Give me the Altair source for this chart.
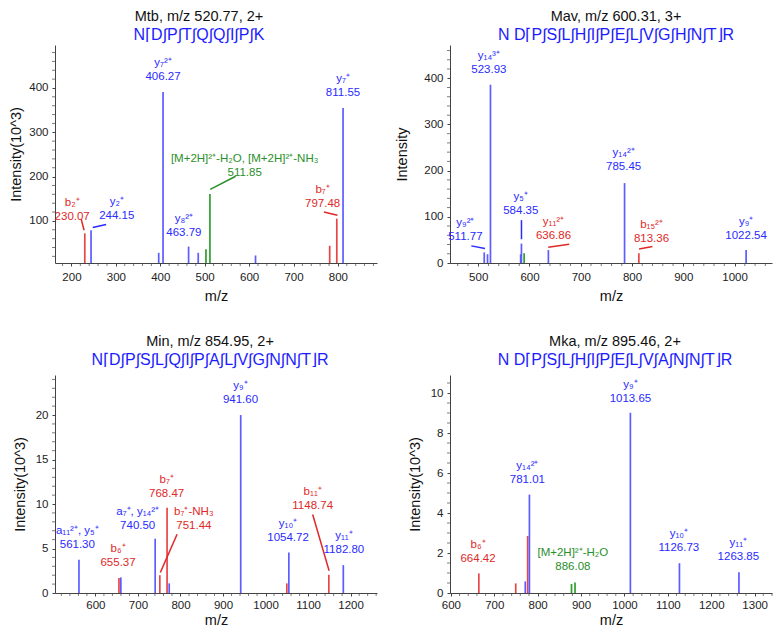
import altair as alt
import numpy as np
import pandas as pd

FONT = "Liberation Sans"
BAR = {"b": "#e84646", "y": "#5c5cff", "m": "#2f9e2f"}
TXT = {"b": "#e02828", "y": "#2a2aff", "m": "#2a8f2a"}
AXC = "#444444"

# ---------------- Mtb ----------------
mtb_title = "Mtb, m/z 520.77, 2+"
mtb_seq = "N⌈D∫P∫T∫Q∫Q∫I∫P∫K"
mtb_mz = [230.07, 244.15, 396.5, 406.27, 463.79, 485.5, 502.9, 511.85, 614.5, 781.5, 797.48, 811.55]
mtb_int = [72, 79, 28, 391, 42, 28, 36, 161, 22, 44, 105, 355]
mtb_kind = ["b", "y", "y", "y", "y", "y", "m", "m", "y", "b", "b", "y"]
mtb_lab_name = ["b₂⁺", "y₂⁺", "y₇²⁺", "y₈²⁺", "[M+2H]²⁺-H₂O, [M+2H]²⁺-NH₃", "b₇⁺", "y₇⁺"]
mtb_lab_val = ["230.07", "244.15", "406.27", "463.79", "511.85", "797.48", "811.55"]
mtb_lab_x = [201.7, 302.1, 406.3, 453.2, 590.0, 765.5, 811.5]
mtb_lab_y = [107.7, 110.6, 424.0, 73.2, 208.4, 137.5, 388.9]
mtb_lab_kind = ["b", "y", "y", "y", "m", "b", "y"]
mtb_lead_x1 = [222.0, 247.9, 512.5, 768.4]
mtb_lead_y1 = [104.0, 85.3, 171.0, 120.2]
mtb_lead_x2 = [228.5, 278.2, 569.8, 798.9]
mtb_lead_y2 = [79.0, 92.0, 200.8, 112.8]
mtb_lead_kind = ["b", "y", "m", "b"]
mtb_xmajor = [200, 300, 400, 500, 600, 700, 800]
mtb_ymajor = [100, 200, 300, 400]

# ---------------- Mav ----------------
mav_title = "Mav, m/z 600.31, 3+"
mav_seq = "N D⌈P∫S∫L∫H∫I∫P∫E∫L∫V∫G∫H∫N∫T⌋R"
mav_mz = [511.77, 518.2, 523.93, 582.8, 584.35, 589.6, 636.86, 785.45, 813.36, 1022.54]
mav_int = [23, 19, 386, 19, 42, 21, 28, 173, 21, 28]
mav_kind = ["y", "y", "y", "y", "y", "m", "y", "y", "b", "y"]
mav_lab_name = ["y₉²⁺", "y₁₄³⁺", "y₅⁺", "y₁₁²⁺", "y₁₄²⁺", "b₁₅²⁺", "y₉⁺"]
mav_lab_val = ["511.77", "523.93", "584.35", "636.86", "785.45", "813.36", "1022.54"]
mav_lab_x = [475.0, 520.8, 583.1, 646.9, 783.7, 838.0, 1022.5]
mav_lab_y = [55.7, 417.0, 112.7, 58.5, 207.0, 52.7, 58.5]
mav_lab_kind = ["y", "y", "y", "b", "y", "b", "y"]
mav_lead_x1 = [486.5, 584.4, 636.6, 813.7]
mav_lead_y1 = [37.1, 92.8, 34.3, 30.2]
mav_lead_x2 = [513.2, 584.4, 677.5, 839.8]
mav_lead_y2 = [31.3, 51.4, 40.7, 35.6]
mav_lead_kind = ["y", "y", "b", "b"]
mav_xmajor = [500, 600, 700, 800, 900, 1000]
mav_ymajor = [0, 100, 200, 300, 400]

# ---------------- Min ----------------
min_title = "Min, m/z 854.95, 2+"
min_seq = "N⌈D∫P∫S∫L∫Q∫I∫P∫A∫L∫V∫G∫N∫N∫T⌋R"
min_mz = [561.30, 655.37, 659.8, 740.50, 751.44, 768.47, 773.5, 941.60, 1050.0, 1054.72, 1148.74, 1182.80]
min_int = [3.73, 1.68, 1.75, 6.1, 2.0, 9.57, 1.08, 20.0, 1.08, 4.55, 2.05, 3.13]
min_kind = ["y", "b", "y", "y", "b", "b", "y", "y", "b", "y", "b", "y"]
min_lab_name = ["a₁₁²⁺, y₅⁺", "b₆⁺", "a₇⁺, y₁₄²⁺", "b₇⁺", "b₇⁺-NH₃", "y₉⁺", "y₁₀⁺", "b₁₁⁺", "y₁₁⁺"]
min_lab_val = ["561.30", "655.37", "740.50", "768.47", "751.44", "941.60", "1054.72", "1148.74", "1182.80"]
min_lab_x = [557.5, 653.2, 699.4, 767.5, 831.4, 941.1, 1052.9, 1110.8, 1184.2]
min_lab_y = [5.36, 3.35, 7.53, 11.14, 7.53, 21.64, 6.22, 9.83, 4.8]
min_lab_kind = ["y", "b", "y", "b", "b", "y", "y", "b", "y"]
min_lead_x1 = [792.0, 1110.8]
min_lead_y1 = [6.6, 8.83]
min_lead_x2 = [752.7, 1149.4]
min_lead_y2 = [2.3, 2.5]
min_lead_kind = ["b", "b"]
min_xmajor = [600, 700, 800, 900, 1000, 1100, 1200]
min_ymajor = [0, 5, 10, 15, 20]

# ---------------- Mka ----------------
mka_title = "Mka, m/z 895.46, 2+"
mka_seq = "N D⌈P∫S∫L∫H∫I∫P∫E∫L∫V∫A∫N∫N∫T⌋R"
mka_mz = [664.42, 749.5, 771.5, 777.0, 781.01, 878.0, 886.08, 1013.65, 1126.73, 1263.85]
mka_int = [0.98, 0.48, 0.58, 2.85, 4.92, 0.45, 0.53, 9.01, 1.49, 1.04]
mka_kind = ["b", "b", "y", "b", "y", "m", "m", "y", "y", "y"]
mka_lab_name = ["b₆⁺", "y₁₄²⁺", "[M+2H]²⁺-H₂O", "y₉⁺", "y₁₀⁺", "y₁₁⁺"]
mka_lab_val = ["664.42", "781.01", "886.08", "1013.65", "1126.73", "1263.85"]
mka_lab_x = [662.6, 776.4, 881.1, 1013.8, 1125.3, 1262.5]
mka_lab_y = [1.72, 5.66, 1.28, 9.72, 2.27, 1.81]
mka_lab_kind = ["b", "y", "m", "y", "y", "y"]
mka_lead_x1 = []
mka_lead_y1 = []
mka_lead_x2 = []
mka_lead_y2 = []
mka_lead_kind = []
mka_xmajor = [600, 700, 800, 900, 1000, 1100, 1200, 1300]
mka_ymajor = [0, 2, 4, 6, 8, 10]

W, H = 322, 218


def minor(lo, hi, step, major):
    start = np.ceil(lo / step) * step
    vals = [round(float(v), 4) for v in np.arange(start, hi + 1e-9, step)]
    return [v for v in vals if min(abs(v - m) for m in major) > 1e-6]


def panel(title, seq, mz, inten, kind, ln, lv, lx, ly, lk, ax1, ay1, ax2, ay2, ak,
          xdom, ydom, xmajor, xstep, ymajor, ystep, ytitle, ytitle_x, xtitle_y,
          xlab_pad, title_dx, title_offset):
    peaks = pd.DataFrame({"mz": mz, "inten": inten, "c": [BAR[k] for k in kind]})
    labels = pd.DataFrame({"x": lx, "y": ly, "name": ln, "val": lv,
                           "c": [TXT[k] for k in lk]})
    leads = pd.DataFrame({"x": ax1, "y": ay1, "x2": ax2, "y2": ay2,
                          "c": [TXT[k] for k in ak]})
    xminor = pd.DataFrame({"v": minor(xdom[0], xdom[1], xstep, xmajor)})
    yminor = pd.DataFrame({"v": minor(ydom[0], ydom[1], ystep, ymajor)})
    xaxis = alt.Axis(
        values=xmajor, format="d", tickSize=3, labelPadding=xlab_pad,
        labelFontSize=11.5, labelFont=FONT, labelColor="#222", labelFlush=False,
        title="m/z", titleFont=FONT, titleFontSize=14.5, titleFontWeight="normal",
        titleColor="#111", titleY=xtitle_y, titleBaseline="middle",
        grid=False, domainColor=AXC, tickColor=AXC)
    yaxis = alt.Axis(
        values=ymajor, format="d", tickSize=3, labelPadding=4, labelFontSize=11.5,
        labelFont=FONT, labelColor="#222",
        title=ytitle, titleFont=FONT, titleFontSize=14.5, titleFontWeight="normal",
        titleColor="#111", titleX=ytitle_x, titleY=H / 2, titleAngle=270,
        titleBaseline="middle", titleAlign="center",
        grid=False, domainColor=AXC, tickColor=AXC)
    xs = alt.Scale(domain=xdom, nice=False, zero=False)
    ys = alt.Scale(domain=ydom, nice=False, zero=False)
    bars = alt.Chart(peaks).mark_rule(strokeWidth=1.7, clip=True).encode(
        x=alt.X("mz:Q", scale=xs, axis=xaxis),
        y=alt.Y("inten:Q", scale=ys, axis=yaxis),
        y2=alt.datum(ydom[0]),
        color=alt.Color("c:N", scale=None),
    )
    xt = alt.Chart(xminor).mark_tick(orient="vertical", size=3, thickness=1,
                                     yOffset=1.5, color=AXC).encode(
        x="v:Q", y=alt.datum(ydom[0]))
    yt = alt.Chart(yminor).mark_tick(orient="horizontal", size=3, thickness=1,
                                     xOffset=-1.5, color=AXC).encode(
        y="v:Q", x=alt.datum(xdom[0]))
    layers = [bars, xt, yt]
    if len(leads):
        layers.append(alt.Chart(leads).mark_rule(strokeWidth=1.5).encode(
            x="x:Q", y="y:Q", x2="x2:Q", y2="y2:Q",
            color=alt.Color("c:N", scale=None)))
    layers.append(alt.Chart(labels).mark_text(
        font=FONT, fontSize=11.5, dy=-14, baseline="middle").encode(
        x="x:Q", y="y:Q", text="name:N", color=alt.Color("c:N", scale=None)))
    layers.append(alt.Chart(labels).mark_text(
        font=FONT, fontSize=11.5, baseline="middle").encode(
        x="x:Q", y="y:Q", text="val:N", color=alt.Color("c:N", scale=None)))
    return alt.layer(*layers).properties(
        width=W, height=H,
        title=alt.TitleParams(
            text=title, subtitle=seq, font=FONT, fontSize=14.5, fontWeight="normal",
            color="#111", subtitleFont=FONT, subtitleFontSize=16,
            subtitleColor="#1c1cff", subtitlePadding=3, offset=title_offset,
            anchor="middle", dx=title_dx))


p1 = panel(mtb_title, mtb_seq, mtb_mz, mtb_int, mtb_kind, mtb_lab_name, mtb_lab_val,
           mtb_lab_x, mtb_lab_y, mtb_lab_kind, mtb_lead_x1, mtb_lead_y1, mtb_lead_x2,
           mtb_lead_y2, mtb_lead_kind, [163, 888], [5, 497], mtb_xmajor, 20,
           mtb_ymajor, 20, "Intensity(10^3)", -39, 33, 5.5, -17, 1)
p2 = panel(mav_title, mav_seq, mav_mz, mav_int, mav_kind, mav_lab_name, mav_lab_val,
           mav_lab_x, mav_lab_y, mav_lab_kind, mav_lead_x1, mav_lead_y1, mav_lead_x2,
           mav_lead_y2, mav_lead_kind, [445, 1073], [0, 472], mav_xmajor, 20,
           mav_ymajor, 20, "Intensity", -48, 33, 5.5, 5, 1)
p3 = panel(min_title, min_seq, min_mz, min_int, min_kind, min_lab_name, min_lab_val,
           min_lab_x, min_lab_y, min_lab_kind, min_lead_x1, min_lead_y1, min_lead_x2,
           min_lead_y2, min_lead_kind, [505, 1262], [0, 24.5], min_xmajor, 20,
           min_ymajor, 1, "Intensity(10^3)", -35, 27, 3.5, -6, 6)
p4 = panel(mka_title, mka_seq, mka_mz, mka_int, mka_kind, mka_lab_name, mka_lab_val,
           mka_lab_x, mka_lab_y, mka_lab_kind, mka_lead_x1, mka_lead_y1, mka_lead_x2,
           mka_lead_y2, mka_lead_kind, [598, 1340], [0, 10.9], mka_xmajor, 20,
           mka_ymajor, 0.5, "Intensity(10^3)", -35, 27, 3.5, 4, 6)

chart = alt.concat(
    p1, p2, p3, p4, columns=2, spacing={"row": 112, "column": 73}, bounds="flush",
).configure_view(stroke=None).properties(padding=0, background="white")

chart.save("out.html", embed_options={"renderer": "svg", "actions": False})
